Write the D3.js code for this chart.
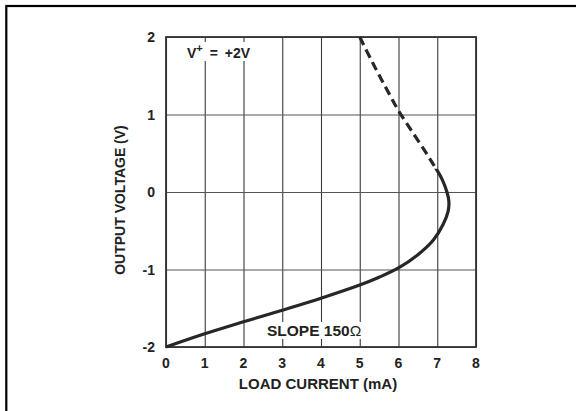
<!DOCTYPE html>
<html>
<head>
<meta charset="utf-8">
<script src="https://cdn.jsdelivr.net/npm/d3@7"></script>
<style>
  body { margin: 0; background: #fff; }
  text { font-family: "Liberation Sans", Arial, sans-serif; font-weight: bold; fill: #222; }
</style>
</head>
<body>
<div id="chart"></div>
<script>
// Data
let xTicks = [0, 1, 2, 3, 4, 5, 6, 7, 8];
let yTicks = [-2, -1, 0, 1, 2];

// the curve, in order of rising voltage (load current mA, output voltage V)
let curveCurrent = [0, 1, 2, 3, 4, 5, 5.5, 6, 6.5, 6.9, 7.15, 7.28, 7.3, 7.25, 7.12, 6.97,
                    6.87, 6.68, 6.35, 6.0, 5.67, 5.33, 5.0];
let curveVoltage = [-2, -1.83, -1.675, -1.525, -1.37, -1.2, -1.1, -0.98, -0.81, -0.62, -0.42, -0.25, -0.12, 0, 0.17, 0.3,
                    0.38, 0.53, 0.78, 1.05, 1.35, 1.67, 2.0];
// above this voltage the curve is drawn dashed
let dashFrom = 0.3;

let zip = (a, b) => a.map((d, i) => [d, b[i]]);

const W = 576, H = 411;
const plot = {left: 166, right: 476, top: 37, bottom: 347};

let svg = d3.select('#chart')
  .append('svg')
    .attr('width', W)
    .attr('height', H);

// outer frame (runs off the right and bottom edges)
svg.append('rect')
  .attr('x', 6.3).attr('y', 6)
  .attr('width', 700).attr('height', 600)
  .attr('fill', 'none')
  .attr('stroke', '#000')
  .attr('stroke-width', 2.2);

let xScale = d3.scaleLinear().domain([0, 8]).range([plot.left, plot.right]);
let yScale = d3.scaleLinear().domain([-2, 2]).range([plot.bottom, plot.top]);

// grid
let grid = svg.append('g').attr('id', 'grid');
grid.append('g')
  .attr('transform', `translate(0, ${plot.bottom})`)
  .call(d3.axisBottom(xScale).tickValues(xTicks).tickSize(-(plot.bottom - plot.top)).tickFormat(''))
  .call(g => g.select('.domain').remove())
  .call(g => g.selectAll('line').attr('stroke', '#3a3a3a').attr('stroke-width', 1.1));
grid.append('g')
  .attr('transform', `translate(${plot.left}, 0)`)
  .call(d3.axisLeft(yScale).tickValues(yTicks).tickSize(-(plot.right - plot.left)).tickFormat(''))
  .call(g => g.select('.domain').remove())
  .call(g => g.selectAll('line').attr('stroke', '#555').attr('stroke-width', 1.2));

// in-plot labels with white backing
let addLabel = (x, y, size, build) => {
  let t = svg.append('text').attr('x', x).attr('y', y).style('font-size', size);
  build(t);
  let bb = t.node().getBBox();
  svg.insert('rect', () => t.node())
    .attr('x', bb.x - 3).attr('y', bb.y)
    .attr('width', bb.width + 6).attr('height', bb.height)
    .attr('fill', '#fff');
  return t;
};

addLabel(187, 58, '14px', t => {
  t.style('word-spacing', '3px');
  t.append('tspan').text('V');
  t.append('tspan').attr('dy', -6).style('font-size', '11px').text('+');
  t.append('tspan').attr('dy', 6).text(' = +2V');
});
addLabel(267, 336, '15.5px', t => {
  t.append('tspan').text('SLOPE 150');
  t.append('tspan').style('font-weight', 'normal').text('\u03A9');
});

// plot frame
svg.append('rect')
  .attr('x', plot.left).attr('y', plot.top)
  .attr('width', plot.right - plot.left).attr('height', plot.bottom - plot.top)
  .attr('fill', 'none')
  .attr('stroke', '#333')
  .attr('stroke-width', 1.8);

// curve: one smooth path, clipped into a solid and a dashed part
let defs = svg.append('defs');
defs.append('clipPath').attr('id', 'clipSolid')
  .append('rect')
    .attr('x', 0).attr('y', yScale(dashFrom))
    .attr('width', W).attr('height', H);
defs.append('clipPath').attr('id', 'clipDash')
  .append('rect')
    .attr('x', 0).attr('y', 0)
    .attr('width', W).attr('height', yScale(dashFrom));

let line = d3.line()
  .x(d => xScale(d[0]))
  .y(d => yScale(d[1]))
  .curve(d3.curveCatmullRom.alpha(0.5));

let pts = zip(curveCurrent, curveVoltage);

svg.append('path')
  .datum(pts)
  .attr('d', line)
  .attr('clip-path', 'url(#clipSolid)')
  .attr('fill', 'none')
  .attr('stroke', '#26262b')
  .attr('stroke-width', 3.2);

svg.append('path')
  .datum(pts.filter(d => d[1] >= dashFrom - 0.2).reverse())
  .attr('d', line)
  .attr('clip-path', 'url(#clipDash)')
  .attr('fill', 'none')
  .attr('stroke', '#26262b')
  .attr('stroke-width', 3.2)
  .attr('stroke-dasharray', '9,5');

// tick labels
svg.append('g')
  .selectAll('text')
  .data(xTicks)
  .enter().append('text')
    .attr('x', d => xScale(d))
    .attr('y', 368)
    .attr('text-anchor', 'middle')
    .style('font-size', '14px')
    .text(d => d);

svg.append('g')
  .selectAll('text')
  .data(yTicks)
  .enter().append('text')
    .attr('x', 155)
    .attr('y', d => yScale(d) + 5)
    .attr('text-anchor', 'end')
    .style('font-size', '14px')
    .text(d => d);

// axis titles
svg.append('text')
  .attr('x', 318)
  .attr('y', 389)
  .attr('text-anchor', 'middle')
  .style('font-size', '15px')
  .text('LOAD CURRENT (mA)');

svg.append('text')
  .attr('transform', 'translate(125, 200) rotate(-90)')
  .attr('text-anchor', 'middle')
  .style('font-size', '14px')
  .text('OUTPUT VOLTAGE (V)');
</script>
</body>
</html>
